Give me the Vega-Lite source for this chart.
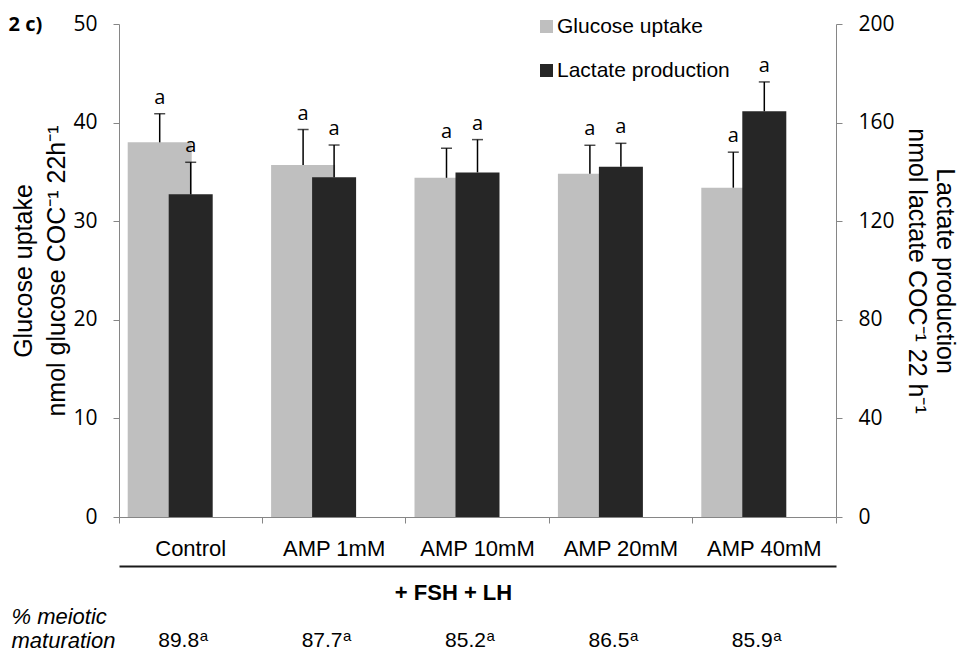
{
  "$schema": "https://vega.github.io/schema/vega-lite/v6.json",
  "width": 717,
  "height": 493,
  "autosize": {"type": "none"},
  "padding": {"left": 119, "top": 24, "right": 122, "bottom": 139},
  "background": "white",
  "config": {
    "view": {"stroke": null},
    "axis": {"grid": false, "domainColor": "#868686", "tickColor": "#868686", "labelColor": "#000000", "titleColor": "#000000"}
  },
  "data": {
    "values": [
      {"cat": "Control", "glu": 38.0, "gluHi": 40.9, "lac": 130.9, "lacHi": 143.9, "sig": "a", "mat": "89.8", "matSig": "a"},
      {"cat": "AMP 1mM", "glu": 35.7, "gluHi": 39.3, "lac": 137.8, "lacHi": 150.9, "sig": "a", "mat": "87.7", "matSig": "a"},
      {"cat": "AMP 10mM", "glu": 34.4, "gluHi": 37.4, "lac": 139.8, "lacHi": 153.1, "sig": "a", "mat": "85.2", "matSig": "a"},
      {"cat": "AMP 20mM", "glu": 34.8, "gluHi": 37.7, "lac": 142.1, "lacHi": 151.6, "sig": "a", "mat": "86.5", "matSig": "a"},
      {"cat": "AMP 40mM", "glu": 33.4, "gluHi": 37.0, "lac": 164.6, "lacHi": 176.5, "sig": "a", "mat": "85.9", "matSig": "a"}
    ]
  },
  "resolve": {
    "scale": {"y": "independent"},
    "axis": {"x": "independent", "y": "independent"}
  },
  "layer": [
    {
      "mark": {"type": "bar", "width": 64, "xOffset": -31},
      "encoding": {
        "x": {"field": "cat", "type": "nominal",
              "scale": {"domain": ["Control", "AMP 1mM", "AMP 10mM", "AMP 20mM", "AMP 40mM"], "paddingInner": 0, "paddingOuter": 0},
              "axis": {"orient": "bottom", "labels": false, "title": null, "domain": true, "ticks": true, "tickSize": 6, "bandPosition": 1, "tickExtra": true}},
        "y": {"field": "glu", "type": "quantitative",
              "scale": {"domain": [0, 50], "nice": false, "zero": true},
              "axis": {"orient": "left", "values": [0, 10, 20, 30, 40, 50], "tickSize": 6, "labelPadding": 16,
                       "labelFont": "Open Sans", "labelFontSize": 21,
                       "title": ["Glucose uptake", "nmol glucose COC⁻¹ 22h⁻¹"],
                       "titleFont": "Liberation Sans", "titleFontSize": 25, "titleFontWeight": "normal",
                       "titleAngle": 270, "titleX": -88, "titleY": 246.5, "titleAlign": "center", "titleBaseline": "alphabetic", "titleLineHeight": 33}},
        "color": {"datum": "Glucose uptake", "type": "nominal",
                  "scale": {"domain": ["Glucose uptake", "Lactate production"], "range": ["#bfbfbf", "#262626"]},
                  "legend": {"orient": "none", "legendX": 417, "legendY": -8, "direction": "vertical", "title": null,
                             "symbolType": "square", "symbolSize": 169, "symbolStrokeWidth": 0, "symbolOpacity": 1,
                             "labelFont": "Liberation Sans", "labelFontSize": 21, "labelColor": "#000000", "labelLimit": 0,
                             "rowPadding": 22, "labelOffset": 0}}
      }
    },
    {
      "mark": {"type": "bar", "width": 44, "xOffset": 0},
      "encoding": {
        "x": {"field": "cat", "type": "nominal",
              "scale": {"domain": ["Control", "AMP 1mM", "AMP 10mM", "AMP 20mM", "AMP 40mM"], "paddingInner": 0, "paddingOuter": 0},
              "axis": {"orient": "bottom", "domain": false, "ticks": false, "tickSize": 0, "labels": true, "labelPadding": 38, "labelBaseline": "alphabetic",
                       "labelFont": "Liberation Sans", "labelFontSize": 22, "labelAngle": 0, "labelLimit": 0, "title": null}},
        "y": {"field": "lac", "type": "quantitative",
              "scale": {"domain": [0, 200], "nice": false, "zero": true},
              "axis": {"orient": "right", "values": [0, 40, 80, 120, 160, 200], "tickSize": 6, "labelPadding": 16,
                       "labelFont": "Open Sans", "labelFontSize": 21,
                       "title": ["Lactate production", "nmol lactate COC⁻¹ 22 h⁻¹"],
                       "titleFont": "Liberation Sans", "titleFontSize": 25, "titleFontWeight": "normal",
                       "titleAngle": 90, "titleX": 100, "titleY": 246.5, "titleAlign": "center", "titleBaseline": "alphabetic", "titleLineHeight": 28}},
        "color": {"datum": "Lactate production", "type": "nominal",
                  "scale": {"domain": ["Glucose uptake", "Lactate production"], "range": ["#bfbfbf", "#262626"]}}
      }
    },
    {
      "mark": {"type": "rule", "xOffset": -31, "strokeWidth": 1.5, "color": "#000000"},
      "encoding": {
        "x": {"field": "cat", "type": "nominal",
              "scale": {"domain": ["Control", "AMP 1mM", "AMP 10mM", "AMP 20mM", "AMP 40mM"], "paddingInner": 0, "paddingOuter": 0},
              "axis": {"orient": "bottom", "offset": 49, "domain": true, "domainColor": "#1a1a1a", "domainWidth": 2, "ticks": false, "labels": false,
                       "title": "+ FSH + LH", "titleFont": "Liberation Sans", "titleFontSize": 22, "titleFontWeight": "bold",
                       "titleX": 334, "titleY": 33, "titleAlign": "center", "titleBaseline": "alphabetic"}},
        "y": {"field": "glu", "type": "quantitative", "scale": {"domain": [0, 50], "nice": false}, "axis": null},
        "y2": {"field": "gluHi"}
      }
    },
    {
      "mark": {"type": "tick", "xOffset": -31, "size": 11, "thickness": 1.5, "color": "#000000", "orient": "horizontal"},
      "encoding": {
        "x": {"field": "cat", "type": "nominal",
              "scale": {"domain": ["Control", "AMP 1mM", "AMP 10mM", "AMP 20mM", "AMP 40mM"], "paddingInner": 0, "paddingOuter": 0},
              "axis": {"orient": "bottom", "domain": false, "ticks": false, "labels": false,
                       "title": ["% meiotic", "maturation"], "titleFont": "Liberation Sans", "titleFontSize": 22, "titleFontWeight": "normal",
                       "titleFontStyle": "italic", "titleX": -108, "titleY": 106, "titleAlign": "left", "titleBaseline": "alphabetic", "titleLineHeight": 24}},
        "y": {"field": "gluHi", "type": "quantitative", "scale": {"domain": [0, 50], "nice": false},
              "axis": {"orient": "left", "domain": false, "ticks": false, "labels": false,
                       "title": "2 c)", "titleFont": "Open Sans", "titleFontSize": 20, "titleFontWeight": "bold",
                       "titleAngle": 0, "titleX": -111, "titleY": 6, "titleAlign": "left", "titleBaseline": "alphabetic"}}
      }
    },
    {
      "mark": {"type": "rule", "xOffset": 0, "strokeWidth": 1.5, "color": "#000000"},
      "encoding": {
        "x": {"field": "cat", "type": "nominal",
              "scale": {"domain": ["Control", "AMP 1mM", "AMP 10mM", "AMP 20mM", "AMP 40mM"], "paddingInner": 0, "paddingOuter": 0},
              "axis": null},
        "y": {"field": "lac", "type": "quantitative", "scale": {"domain": [0, 200], "nice": false}, "axis": null},
        "y2": {"field": "lacHi"}
      }
    },
    {
      "mark": {"type": "tick", "xOffset": 0, "size": 11, "thickness": 1.5, "color": "#000000", "orient": "horizontal"},
      "encoding": {
        "x": {"field": "cat", "type": "nominal",
              "scale": {"domain": ["Control", "AMP 1mM", "AMP 10mM", "AMP 20mM", "AMP 40mM"], "paddingInner": 0, "paddingOuter": 0},
              "axis": null},
        "y": {"field": "lacHi", "type": "quantitative", "scale": {"domain": [0, 200], "nice": false}, "axis": null}
      }
    },
    {
      "mark": {"type": "text", "dx": -31, "dy": -10, "baseline": "alphabetic", "align": "center", "font": "Open Sans", "fontSize": 20, "color": "#000000"},
      "encoding": {
        "x": {"field": "cat", "type": "nominal",
              "scale": {"domain": ["Control", "AMP 1mM", "AMP 10mM", "AMP 20mM", "AMP 40mM"], "paddingInner": 0, "paddingOuter": 0},
              "axis": null},
        "y": {"field": "gluHi", "type": "quantitative", "scale": {"domain": [0, 50], "nice": false}, "axis": null},
        "text": {"field": "sig"}
      }
    },
    {
      "mark": {"type": "text", "dx": 0, "dy": -10, "baseline": "alphabetic", "align": "center", "font": "Open Sans", "fontSize": 20, "color": "#000000"},
      "encoding": {
        "x": {"field": "cat", "type": "nominal",
              "scale": {"domain": ["Control", "AMP 1mM", "AMP 10mM", "AMP 20mM", "AMP 40mM"], "paddingInner": 0, "paddingOuter": 0},
              "axis": null},
        "y": {"field": "lacHi", "type": "quantitative", "scale": {"domain": [0, 200], "nice": false}, "axis": null},
        "text": {"field": "sig"}
      }
    },
    {
      "mark": {"type": "text", "dx": -12, "dy": 130, "baseline": "alphabetic", "align": "center", "font": "Liberation Sans", "fontSize": 21, "color": "#000000"},
      "encoding": {
        "x": {"field": "cat", "type": "nominal",
              "scale": {"domain": ["Control", "AMP 1mM", "AMP 10mM", "AMP 20mM", "AMP 40mM"], "paddingInner": 0, "paddingOuter": 0},
              "axis": null},
        "y": {"datum": 0, "type": "quantitative", "scale": {"domain": [0, 50], "nice": false}, "axis": null},
        "text": {"field": "mat"}
      }
    },
    {
      "mark": {"type": "text", "dx": 9, "dy": 124, "baseline": "alphabetic", "align": "left", "font": "Liberation Sans", "fontSize": 15, "color": "#000000"},
      "encoding": {
        "x": {"field": "cat", "type": "nominal",
              "scale": {"domain": ["Control", "AMP 1mM", "AMP 10mM", "AMP 20mM", "AMP 40mM"], "paddingInner": 0, "paddingOuter": 0},
              "axis": null},
        "y": {"datum": 0, "type": "quantitative", "scale": {"domain": [0, 50], "nice": false}, "axis": null},
        "text": {"field": "matSig"}
      }
    }
  ]
}
